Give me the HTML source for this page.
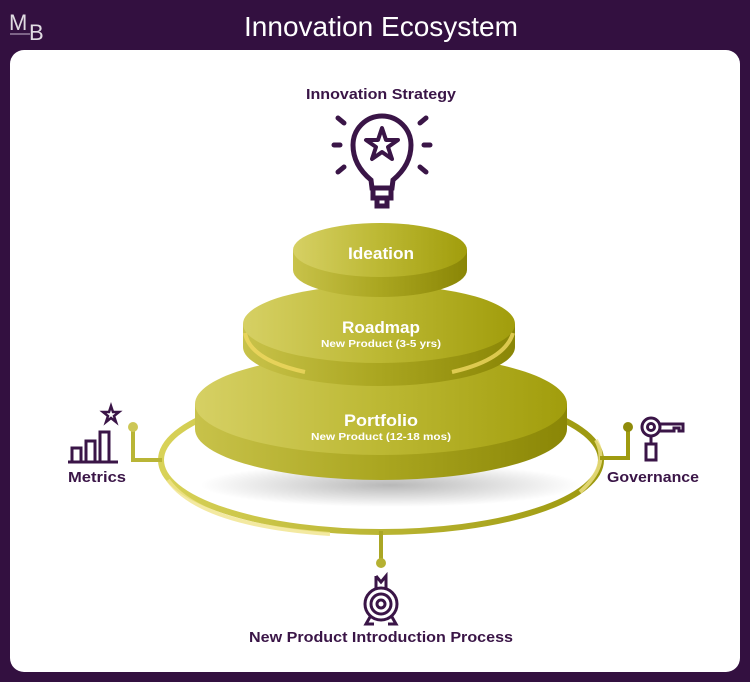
<!DOCTYPE html>
<html><head><meta charset="utf-8"><style>
html,body{margin:0;padding:0;background:#331040;}
svg{display:block}
text{font-family:"Liberation Sans",sans-serif}
</style></head><body>
<svg width="750" height="682" viewBox="0 0 750 682" xmlns="http://www.w3.org/2000/svg">
<defs>
<linearGradient id="g" x1="0" x2="1" y1="0" y2="0">
<stop offset="0" stop-color="#d6d064"/><stop offset="0.5" stop-color="#bcb833"/><stop offset="1" stop-color="#a19d0c"/></linearGradient>
<linearGradient id="gs" x1="0" x2="1" y1="0" y2="0">
<stop offset="0" stop-color="#c8c24a"/><stop offset="0.5" stop-color="#aaa620"/><stop offset="1" stop-color="#8a8606"/></linearGradient>
<linearGradient id="gr" x1="0" x2="1" y1="0" y2="0">
<stop offset="0" stop-color="#d8d258"/><stop offset="1" stop-color="#9c980e"/></linearGradient>
<radialGradient id="sh" cx="0.5" cy="0.5" r="0.5"><stop offset="0" stop-color="#000" stop-opacity="0.28"/><stop offset="1" stop-color="#000" stop-opacity="0"/></radialGradient>
</defs>
<rect width="750" height="682" fill="#331040"/>
<rect x="10" y="50" width="730" height="622" rx="14" fill="#fff"/>
<text x="9" y="30" fill="#fff" font-size="22" font-weight="300" opacity="0.85">M</text>
<text x="29" y="40" fill="#fff" font-size="22" font-weight="300" opacity="0.85">B</text>
<line x1="10" y1="34" x2="30" y2="34" stroke="#c9b8d0" stroke-width="1"/>
<text x="381" y="36" fill="#fff" font-size="28" text-anchor="middle" font-weight="300">Innovation Ecosystem</text>
<text x="381" y="99" fill="#3a1547" font-size="15" text-anchor="middle" font-weight="bold" textLength="150" lengthAdjust="spacingAndGlyphs">Innovation Strategy</text>
<g stroke="#3a1547" stroke-width="5" fill="none" stroke-linecap="round">
<path d="M371 180 Q353 165 353 145 A29 29 0 1 1 411 145 Q411 165 393 180 L392 188 L372 188 Z"/>
<path d="M373 190 L373 198 L391 198 L391 190"/>
<path d="M377 200 L377 206 L387 206 L387 200"/>
<path d="M382 128 L386 140 L398 140 L388 147 L392 159 L382 152 L372 159 L376 147 L366 140 L378 140 Z" stroke-width="4" stroke-linejoin="round"/>
<line x1="340" y1="145" x2="334" y2="145"/><line x1="424" y1="145" x2="430" y2="145"/>
<line x1="344" y1="123" x2="338" y2="118"/><line x1="420" y1="123" x2="426" y2="118"/>
<line x1="344" y1="167" x2="338" y2="172"/><line x1="420" y1="167" x2="426" y2="172"/>
</g>
<ellipse cx="381" cy="460" rx="220" ry="72" fill="none" stroke="url(#gr)" stroke-width="6"/>
<path d="M168 480 Q200 525 330 534" fill="none" stroke="#f0e48a" stroke-width="4" opacity="0.8"/>
<path d="M596 440 Q610 465 580 492" fill="none" stroke="#f0e48a" stroke-width="4" opacity="0.8"/>
<g stroke="#b9b536" stroke-width="4" fill="none"><path d="M162 460 L133 460 L133 428"/></g>
<circle cx="133" cy="427" r="5" fill="#cdc756"/>
<g stroke="#9f9b10" stroke-width="4" fill="none"><path d="M600 458 L628 458 L628 428"/></g>
<circle cx="628" cy="427" r="5" fill="#8f8b0a"/>
<line x1="381" y1="531" x2="381" y2="562" stroke="#aaa624" stroke-width="4"/>
<circle cx="381" cy="563" r="5" fill="#b5b132"/>
<ellipse cx="390" cy="485" rx="190" ry="22" fill="url(#sh)"/>
<path d="M195 404 L195 429 A186 51 0 0 0 567 429 L567 404 Z" fill="url(#gs)"/>
<ellipse cx="381" cy="404" rx="186" ry="51" fill="url(#g)"/>
<path d="M243 324 L243 347 A136 39 0 0 0 515 347 L515 324 Z" fill="url(#gs)"/>
<path d="M245 333 Q250 360 305 372" fill="none" stroke="#f0d860" stroke-width="4" opacity="0.8"/>
<path d="M513 333 Q505 360 452 372" fill="none" stroke="#f0d860" stroke-width="4" opacity="0.8"/>
<ellipse cx="379" cy="324" rx="136" ry="39" fill="url(#g)"/>
<path d="M293 250 L293 270 A87 27 0 0 0 467 270 L467 250 Z" fill="url(#gs)"/>
<ellipse cx="380" cy="250" rx="87" ry="27" fill="url(#g)"/>
<g fill="#fff" text-anchor="middle" font-weight="bold">
<text x="381" y="259" font-size="17" textLength="66" lengthAdjust="spacingAndGlyphs">Ideation</text>
<text x="381" y="333" font-size="17" textLength="78" lengthAdjust="spacingAndGlyphs">Roadmap</text>
<text x="381" y="347" font-size="10" textLength="120" lengthAdjust="spacingAndGlyphs">New Product (3-5 yrs)</text>
<text x="381" y="426" font-size="17" textLength="74" lengthAdjust="spacingAndGlyphs">Portfolio</text>
<text x="381" y="440" font-size="10" textLength="140" lengthAdjust="spacingAndGlyphs">New Product (12-18 mos)</text>
</g>
<g stroke="#3a1547" stroke-width="3" fill="none">
<line x1="68" y1="462" x2="118" y2="462"/>
<rect x="72" y="448" width="9" height="14"/><rect x="86" y="441" width="9" height="21"/><rect x="100" y="432" width="9" height="30"/>
<path d="M111 406 L113 412 L119 412 L114 416 L116 422 L111 418 L106 422 L108 416 L103 412 L109 412 Z" stroke-width="2.5"/>
</g>
<text x="97" y="482" fill="#3a1547" font-size="15" text-anchor="middle" font-weight="bold" textLength="58" lengthAdjust="spacingAndGlyphs">Metrics</text>
<g stroke="#3a1547" stroke-width="3" fill="none">
<circle cx="651" cy="427" r="9"/><circle cx="651" cy="427" r="3.5"/>
<path d="M660 424 L683 424 L683 431 L679 431 L679 428 L674 428 L674 431 L660 431"/>
<line x1="651" y1="436" x2="651" y2="444"/>
<rect x="646" y="444" width="10" height="16"/>
</g>
<text x="653" y="482" fill="#3a1547" font-size="15" text-anchor="middle" font-weight="bold" textLength="92" lengthAdjust="spacingAndGlyphs">Governance</text>
<g stroke="#3a1547" stroke-width="3" fill="none">
<circle cx="381" cy="604" r="16"/><circle cx="381" cy="604" r="10"/><circle cx="381" cy="604" r="4"/>
<path d="M376 576 L381 582 L386 576 L386 590 M376 576 L376 590"/>
<path d="M370 617 L366 624 L374 624 M392 617 L396 624 L388 624"/>
</g>
<text x="381" y="642" fill="#3a1547" font-size="15" text-anchor="middle" font-weight="bold" textLength="264" lengthAdjust="spacingAndGlyphs">New Product Introduction Process</text>
</svg>
</body></html>
